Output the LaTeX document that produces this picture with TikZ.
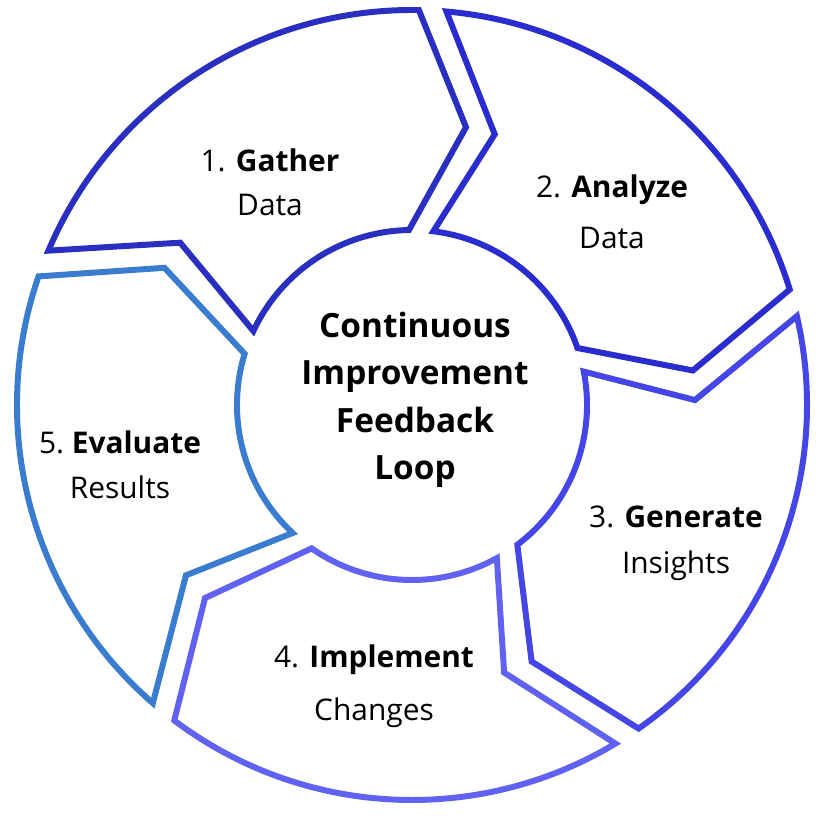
\documentclass[tikz,border=0pt]{standalone}
\usepackage{fontspec}
\setmainfont{Open Sans}
\usetikzlibrary{positioning}
\definecolor{segA}{HTML}{2A2FC2}
\definecolor{segB}{HTML}{2B2CD0}
\definecolor{segC}{HTML}{4646E8}
\definecolor{segD}{HTML}{6262F2}
\definecolor{segE}{HTML}{3A7CD0}
\tikzstyle{seg} = [line width=3.4pt, line join=miter, fill=white]
\tikzstyle{label} = [draw=none, fill=none, text centered, font=\fontsize{17}{20}\selectfont]
\tikzstyle{hub} = [draw=none, fill=none, align=center, font=\fontsize{19}{27}\selectfont\bfseries]

\begin{document}
\begin{tikzpicture}
	\useasboundingbox (0,0) rectangle (16.48,16.36);

	% ring segments
	\foreach \a/\col in {159/segA, 87/segB, 15/segC, -57/segD, -129/segE}
		\draw [seg, draw=\col, shift={(8.24,8.26)}]
			(\a-2:7.9) arc[start angle=\a-2, end angle=\a-70, radius=7.9]
			-- (\a-80:5.66) -- (\a-68:3.5)
			arc[start angle=\a-68, end angle=\a-4, radius=3.5]
			-- (\a-14:5.66) -- cycle;

	% hub text
	\node [hub] (C) at (8.3,8.36) {Continuous\\Improvement\\Feedback\\Loop};

	% step labels
	\node [label] (G1) at (5.4,13.16) {1. \textbf{Gather}};
	\node [label, below=0.2cm of G1] (G2) {Data};
	\node [label] (A1) at (12.24,12.56) {2. \textbf{Analyze}};
	\node [label, below=0.2cm of A1] (A2) {Data};
	\node [label] (I1) at (13.52,6.02) {3. \textbf{Generate}};
	\node [label, below=0.2cm of I1] (I2) {Insights};
	\node [label] (M1) at (7.48,3.16) {4. \textbf{Implement}};
	\node [label, below=0.2cm of M1] (M2) {Changes};
	\node [label] (E1) at (2.4,7.52) {5.\ \textbf{Evaluate}};
	\node [label, below=0.2cm of E1] (E2) {Results};
\end{tikzpicture}
\end{document}
